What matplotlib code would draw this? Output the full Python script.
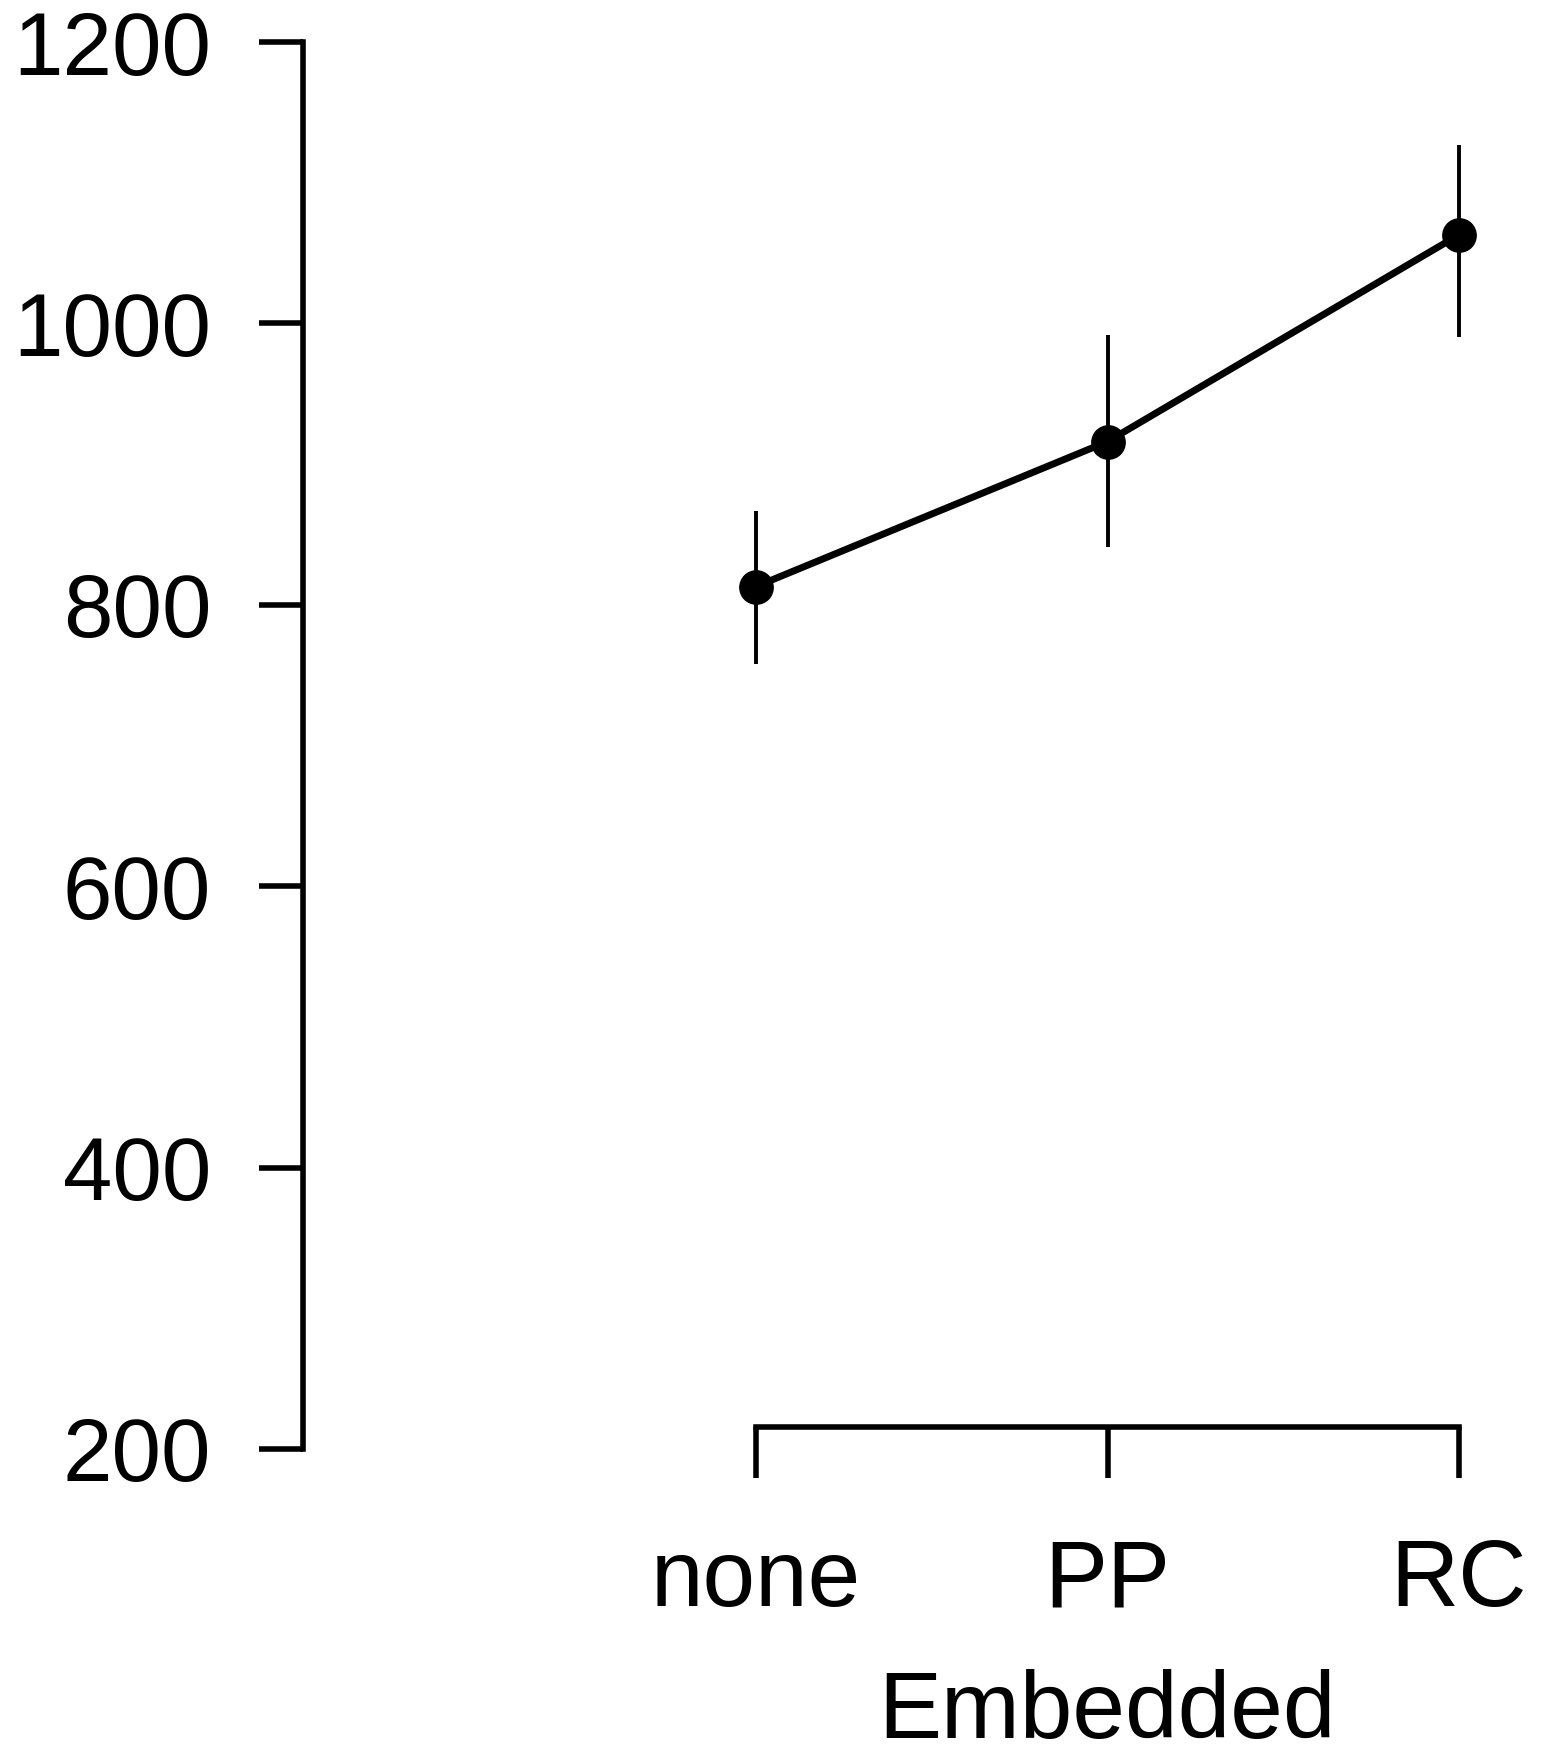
import matplotlib.pyplot as plt
import matplotlib.transforms as mtransforms
import numpy as np

# values
categories = ["none", "PP", "RC"]
means = [813, 916, 1063]
upper = [867, 992, 1127]
lower = [758, 841, 990]
y_ticks = [200, 400, 600, 800, 1000, 1200]

plt.rcParams['font.family'] = ['Liberation Sans', 'DejaVu Sans']

W, H = 1548, 1759
fig = plt.figure(figsize=(W / 100, H / 100), dpi=100)
# axes box in pixels: left spine at x=303, 1200 at y=42, 200 at y=1449
ax = fig.add_axes([303 / W, 1 - 1449 / H, (1500 - 303) / W, (1449 - 42) / H])

x = np.arange(len(categories))
ax.vlines(x, lower, upper, color='black', lw=2.8)
ax.plot(x, means, color='black', lw=5, marker='o', ms=24, zorder=3)

ax.set_xlim(-(756 - 303) / 351.5, 2 + (1500 - 1459) / 351.5)
ax.set_ylim(200, 1200)

for s in ['top', 'right']:
    ax.spines[s].set_visible(False)
ax.spines['left'].set_bounds(200, 1200)
ax.spines['bottom'].set_bounds(0, 2)
ax.spines['bottom'].set_position(('axes', 22 / 1407))
for s in ['left', 'bottom']:
    ax.spines[s].set_linewidth(4)
    ax.spines[s].set_capstyle('projecting')

ax.set_yticks(y_ticks)
ax.set_xticks(x)
ax.set_xticklabels(categories)
ax.tick_params(axis='y', length=32, width=4, pad=34, labelsize=64)
ax.tick_params(axis='x', length=37, width=4, pad=92, labelsize=68)
for lab in ax.get_xticklabels():
    lab.set_va('baseline')

ax.set_xlabel("Embedded", fontsize=68)
ax.xaxis.label.set_va('baseline')
ax.xaxis.set_label_coords(1, 1 - 1738 / H,
                          transform=mtransforms.blended_transform_factory(ax.transData, fig.transFigure))

fig.savefig("out.png", dpi=100, facecolor='white')
